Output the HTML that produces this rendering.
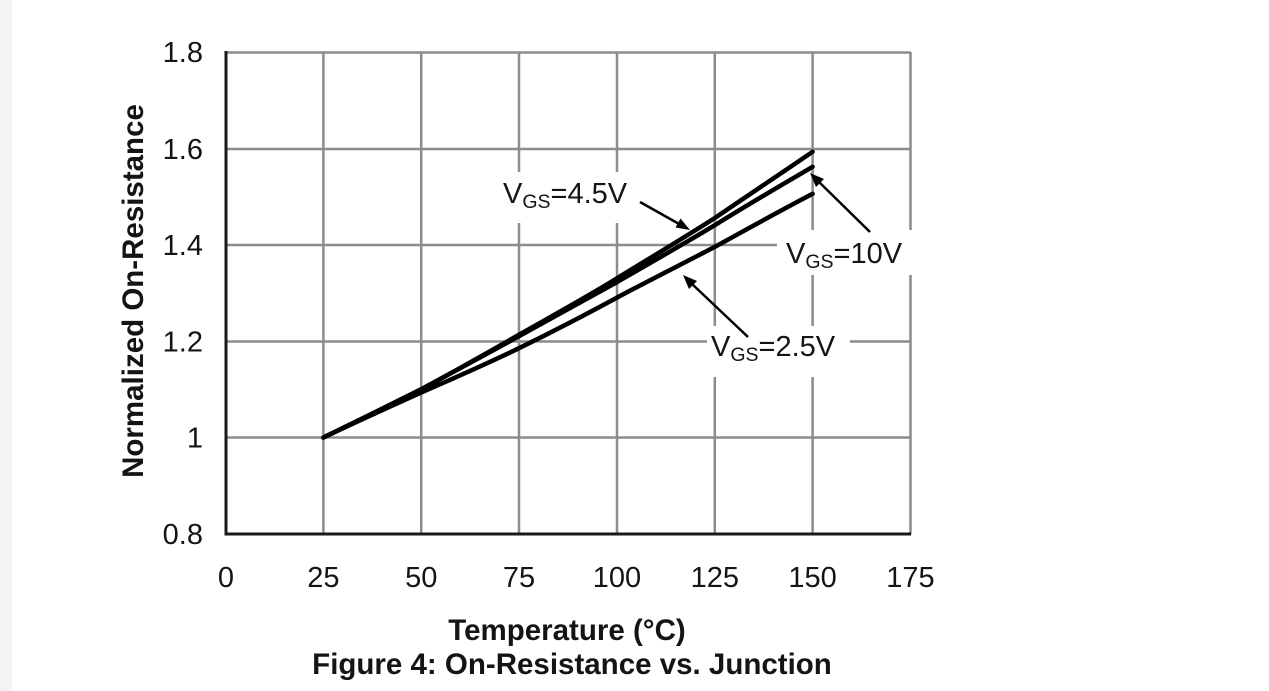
<!DOCTYPE html>
<html>
<head>
<meta charset="utf-8">
<style>
  html, body { margin: 0; padding: 0; background: #ffffff; }
  body { width: 1269px; height: 691px; overflow: hidden; }
  svg { display: block; }
  text { font-family: "Liberation Sans", Arial, sans-serif; fill: #141414; }
  .tick { font-size: 29px; }
  .bold { font-weight: bold; font-size: 29.5px; }
  .lab { font-size: 29px; }
  .sub { font-size: 19.5px; }
</style>
</head>
<body>
<svg width="1269" height="691" viewBox="0 0 1269 691" xmlns="http://www.w3.org/2000/svg">
  <rect x="0" y="0" width="1269" height="691" fill="#ffffff"/>
  <rect x="0" y="0" width="12" height="691" fill="#f3f3f3"/>

  <!-- grid lines -->
  <g stroke="#8c8c8c" stroke-width="2.5" fill="none">
    <line x1="226" y1="149" x2="910.5" y2="149"/>
    <line x1="226" y1="245" x2="910.5" y2="245"/>
    <line x1="226" y1="341.5" x2="910.5" y2="341.5"/>
    <line x1="226" y1="437.5" x2="910.5" y2="437.5"/>
    <line x1="323.4" y1="52" x2="323.4" y2="534"/>
    <line x1="421.2" y1="52" x2="421.2" y2="534"/>
    <line x1="519" y1="52" x2="519" y2="534"/>
    <line x1="617" y1="52" x2="617" y2="534"/>
    <line x1="714.8" y1="52" x2="714.8" y2="534"/>
    <line x1="812.6" y1="52" x2="812.6" y2="534"/>
    <!-- top / right border -->
    <line x1="226" y1="52.5" x2="910.5" y2="52.5"/>
    <line x1="910.5" y1="52" x2="910.5" y2="534"/>
  </g>

  <!-- label background boxes -->
  <rect x="497" y="172" width="143" height="51" fill="#ffffff"/>
  <rect x="777" y="230" width="139" height="45" fill="#ffffff"/>
  <rect x="707" y="326" width="143" height="51" fill="#ffffff"/>

  <!-- axes -->
  <g stroke="#1a1a1a" stroke-width="3" fill="none">
    <line x1="226" y1="51" x2="226" y2="535.5"/>
    <line x1="224.5" y1="534" x2="911" y2="534"/>
  </g>

  <!-- curves -->
  <g fill="none" stroke="#000" stroke-width="4.5" stroke-linejoin="round" stroke-linecap="round">
    <!-- VGS = 4.5V -->
    <path d="M323.4,437.5 C355,422 390,405 421.2,389.3 C455,371 487,353 519,334.7 C552,316 585,298 617,278.3 C650,258 682,239 714.8,218 C747,196 780,174 812.6,151.8"/>
    <!-- VGS = 10V -->
    <path d="M323.4,437.5 C355,422 390,405 421.2,389.3 C455,371 487,354 519,336.2 C552,318 585,300 617,282.1 C650,263 682,245 714.8,225.2 C747,205 780,186 812.6,166.8"/>
    <!-- VGS = 2.5V -->
    <path d="M323.4,437.5 C356,422 389,407 421.2,392.6 C454,378 487,364 519,348.2 C552,332 585,315 617,297.6 C650,280 682,264 714.8,246.9 C747,229 780,211 812.6,193.8"/>
  </g>

  <!-- arrows -->
  <g stroke="#000" stroke-width="2.5" fill="none">
    <line x1="640" y1="202" x2="680" y2="224.5"/>
    <line x1="870" y1="232" x2="818" y2="181"/>
    <line x1="748" y1="337" x2="691" y2="283"/>
  </g>
  <g fill="#000" stroke="none">
    <polygon points="690,230 675.5,227.5 680.5,218.5"/>
    <polygon points="810,173 824,179 816,187"/>
    <polygon points="683,275 697,281 689,289"/>
  </g>

  <!-- labels -->
  <text class="lab" x="503" y="203">V<tspan class="sub" dy="5">GS</tspan><tspan dy="-5">=4.5V</tspan></text>
  <text class="lab" x="786" y="263">V<tspan class="sub" dy="5">GS</tspan><tspan dy="-5">=10V</tspan></text>
  <text class="lab" x="711" y="356">V<tspan class="sub" dy="5">GS</tspan><tspan dy="-5">=2.5V</tspan></text>

  <!-- y tick labels -->
  <g class="tick" text-anchor="end">
    <text x="203" y="62">1.8</text>
    <text x="203" y="159">1.6</text>
    <text x="203" y="255">1.4</text>
    <text x="203" y="351.5">1.2</text>
    <text x="203" y="447.5">1</text>
    <text x="203" y="544">0.8</text>
  </g>

  <!-- x tick labels -->
  <g class="tick" text-anchor="middle">
    <text x="226" y="587">0</text>
    <text x="323.4" y="587">25</text>
    <text x="421.2" y="587">50</text>
    <text x="519" y="587">75</text>
    <text x="617" y="587">100</text>
    <text x="714.8" y="587">125</text>
    <text x="812.6" y="587">150</text>
    <text x="910.5" y="587">175</text>
  </g>

  <!-- axis titles -->
  <text class="bold" x="567" y="640" text-anchor="middle">Temperature (°C)</text>
  <text class="bold" x="572" y="674" text-anchor="middle">Figure 4: On-Resistance vs. Junction</text>
  <text class="bold" x="0" y="0" text-anchor="middle" transform="translate(143,291) rotate(-90)">Normalized On-Resistance</text>
</svg>
</body>
</html>
